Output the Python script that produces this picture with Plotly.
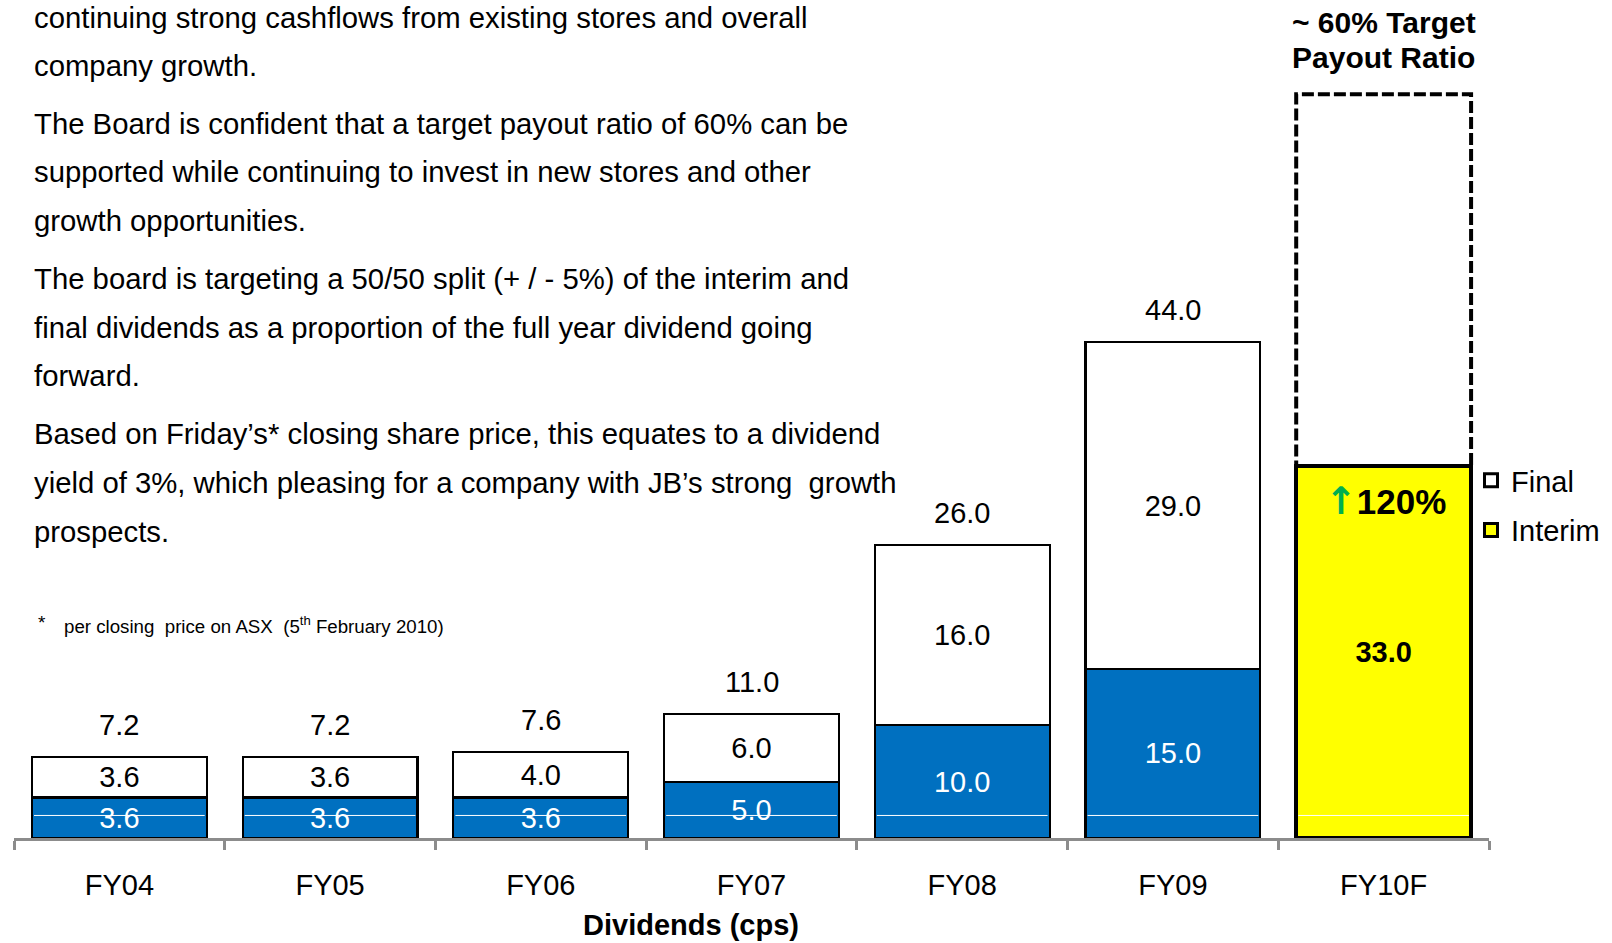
import plotly.graph_objects as go

# ---- data ----
categories = ["FY04", "FY05", "FY06", "FY07", "FY08", "FY09", "FY10F"]
interim = [3.6, 3.6, 3.6, 5.0, 10.0, 15.0, 33.0]
final = [3.6, 3.6, 4.0, 6.0, 16.0, 29.0, 33.0]   # FY10F final is the forecast (dashed)
show_total = [True, True, True, True, True, True, False]
growth_pct = 120
title_lines = ["~ 60% Target", "Payout Ratio"]
legend_names = ["Final", "Interim"]

body_lines = [
    "continuing strong cashflows from existing stores and overall",
    "company growth.",
    "The Board is confident that a target payout ratio of 60% can be",
    "supported while continuing to invest in new stores and other",
    "growth opportunities.",
    "The board is targeting a 50/50 split (+ / - 5%) of the interim and",
    "final dividends as a proportion of the full year dividend going",
    "forward.",
    "Based on Friday\u2019s* closing share price, this equates to a dividend",
    "yield of 3%, which pleasing for a company with JB\u2019s strong  growth",
    "prospects.",
]
body_y_px = [17.5, 66, 123.5, 172, 221, 278.5, 327, 376, 433, 482, 531]
footnote = "per closing  price on ASX  (5<sup>th</sup> February 2010)"

# ---- geometry ----
W, H = 1612, 943
ML, MR, MT, MB = 14, 123, 50, 105
PW, PH = W - ML - MR, H - MT - MB
PX_PER_UNIT = 11.27
YMAX = PH / PX_PER_UNIT
FONT = "Liberation Sans, Arial, sans-serif"
FS = 29
BLUE = "#0070C0"
YELLOW = "#FFFF00"
GRAY = "#8C8C8C"
WHITE_RULE_Y = 2.0

def px_x(px):
    return (px - ML) / PW

def px_y(py):
    return (H - MB - py) / PH

n = len(categories)
hist = list(range(n - 1))
fc = n - 1
BARW = 0.83

fig = go.Figure()

# interim (historical, blue)
fig.add_trace(go.Bar(
    x=[categories[i] for i in hist], y=[interim[i] for i in hist],
    marker=dict(color=BLUE, line=dict(color="black", width=2.2)),
    text=[f"{interim[i]:.1f}" for i in hist], textposition="inside",
    insidetextanchor="middle", textangle=0,
    textfont=dict(color="white", size=FS, family=FONT),
    showlegend=False, name="Interim", hoverinfo="skip",
))
# interim (forecast, yellow)
fig.add_trace(go.Bar(
    x=[categories[fc]], y=[interim[fc]],
    marker=dict(color=YELLOW, line=dict(color="black", width=4)),
    text=[f"{interim[fc]:.1f}"], textposition="inside",
    insidetextanchor="middle", textangle=0,
    textfont=dict(color="black", size=FS, family=FONT, weight="bold"),
    showlegend=False, name="Interim", hoverinfo="skip",
))
# final (historical, white)
fig.add_trace(go.Bar(
    x=[categories[i] for i in hist], y=[final[i] for i in hist],
    marker=dict(color="white", line=dict(color="black", width=2.2)),
    text=[f"{final[i]:.1f}" for i in hist], textposition="inside",
    insidetextanchor="middle", textangle=0,
    textfont=dict(color="black", size=FS, family=FONT),
    showlegend=False, name="Final", hoverinfo="skip",
))
# final (forecast, outline drawn dashed as shape)
fig.add_trace(go.Bar(
    x=[categories[fc]], y=[final[fc]],
    marker=dict(color="rgba(255,255,255,0)", line=dict(color="rgba(0,0,0,0)", width=0)),
    showlegend=False, name="Final (target)", hoverinfo="skip",
))

# legend entries (square swatches)
for name, col, rank in zip(legend_names, ["white", YELLOW], [1, 2]):
    fig.add_trace(go.Scatter(
        x=[None], y=[None], mode="markers", name=name, legendrank=rank,
        legendgroup=name,
        marker=dict(symbol="square", size=13, color=col,
                    line=dict(color="black", width=3)),
        hoverinfo="skip",
    ))

# dashed outline for forecast final
fig.add_shape(type="rect", xref="x", yref="y",
              x0=fc - BARW / 2, x1=fc + BARW / 2,
              y0=interim[fc], y1=interim[fc] + final[fc],
              line=dict(color="black", width=4, dash="12px,4px"), layer="above")

# thin white rule across the bar bases
inset = 0.01
for i in range(n):
    fig.add_shape(type="line", xref="x", yref="y",
                  x0=i - BARW / 2 + inset, x1=i + BARW / 2 - inset,
                  y0=WHITE_RULE_Y, y1=WHITE_RULE_Y,
                  line=dict(color="white", width=1), layer="above")

annotations = []
# totals
for i in range(n):
    if show_total[i]:
        tot = interim[i] + final[i]
        annotations.append(dict(x=categories[i], y=tot, xref="x", yref="y",
                                text=f"{tot:.1f}", showarrow=False, yshift=32,
                                yanchor="middle",
                                font=dict(size=FS, color="black", family=FONT)))
# growth label
annotations.append(dict(x=categories[fc], y=interim[fc], xref="x", yref="y",
                        text=("<span style='color:#00B050;font-family:DejaVu Sans;"
                              "font-weight:bold;font-size:38px'>\u2191</span>"
                              f"{growth_pct}%"),
                        showarrow=False, yshift=-35, xshift=2, yanchor="middle",
                        font=dict(size=35, color="black", family=FONT, weight="bold")))
# title over forecast bar
for line, py in zip(title_lines, [22.5, 57.5]):
    annotations.append(dict(x=categories[fc], y=px_y(py), xref="x", yref="paper",
                            text=line, showarrow=False,
                            yanchor="middle", align="center",
                            font=dict(size=30, color="black", family=FONT, weight="bold")))
# axis title
annotations.append(dict(x=px_x(691), y=px_y(925), xref="paper", yref="paper",
                        text="<b>Dividends (cps)</b>", showarrow=False,
                        yanchor="middle", xanchor="center",
                        font=dict(size=FS, color="black", family=FONT)))
# body text
for line, py in zip(body_lines, body_y_px):
    annotations.append(dict(x=px_x(32), y=px_y(py), xref="paper", yref="paper",
                            text=line, showarrow=False, xanchor="left",
                            yanchor="middle", align="left",
                            font=dict(size=29.3, color="black", family=FONT)))
# footnote
annotations.append(dict(x=px_x(36), y=px_y(622), xref="paper", yref="paper",
                        text="*", showarrow=False, xanchor="left", yanchor="middle",
                        font=dict(size=19, color="black", family=FONT)))
annotations.append(dict(x=px_x(62), y=px_y(625), xref="paper", yref="paper",
                        text=footnote, showarrow=False, xanchor="left", yanchor="middle",
                        font=dict(size=18.7, color="black", family=FONT)))

fig.update_layout(
    width=W, height=H,
    margin=dict(l=ML, r=MR, t=MT, b=MB, autoexpand=False),
    paper_bgcolor="white", plot_bgcolor="white",
    barmode="stack", bargap=1 - BARW,
    font=dict(family=FONT, size=FS, color="black"),
    annotations=annotations,
    uniformtext=dict(minsize=FS, mode="show"),
    legend=dict(x=px_x(1471), y=px_y(455), xanchor="left", yanchor="top",
                traceorder="grouped", tracegroupgap=9,
                font=dict(size=FS, family=FONT, color="black"),
                bgcolor="rgba(0,0,0,0)", itemwidth=30),
    xaxis=dict(range=[-0.5, n - 0.5], showline=True, linecolor=GRAY, linewidth=3,
               ticks="outside", tickson="boundaries", ticklen=9, tickwidth=3,
               tickcolor=GRAY, showgrid=False, ticklabelstandoff=19,
               tickfont=dict(size=FS, family=FONT, color="black"), fixedrange=True),
    yaxis=dict(range=[0, YMAX], showticklabels=False, showline=False, zeroline=False,
               showgrid=False, ticks="", fixedrange=True),
)

fig.write_html("out.html", config={"displayModeBar": False},
               post_script="document.body.style.margin='0';document.body.style.overflow='hidden';")
